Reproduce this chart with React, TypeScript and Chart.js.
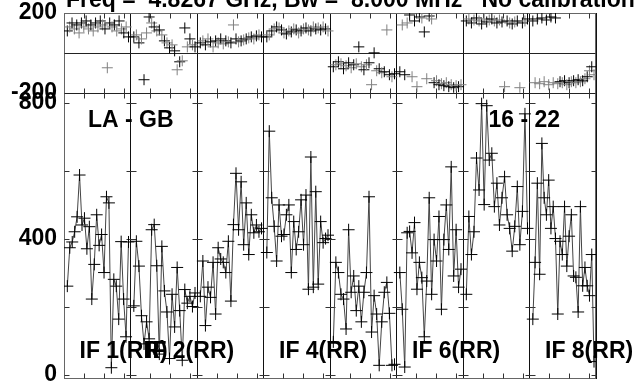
import React, { useEffect, useRef } from 'react';
import { Chart, registerables } from 'chart.js';

Chart.register(...registerables);

const TITLE = 'Freq =  4.8267 GHz, Bw =  8.000 MHz   No calibration applied';
const BASELINE_LABEL = 'LA - GB';
const SCAN_LABEL = '16 - 22';
const IF_LABELS = ['IF 1(RR)', 'IF 2(RR)', '', 'IF 4(RR)', '', 'IF 6(RR)', '', 'IF 8(RR)'];

const AMP_TICKS = [0, 200, 400, 600, 800];
const AMP_TICK_LABELS = ['0', '', '400', '', '800'];
const PHASE_TICKS = [-200, 0, 200];
const PHASE_TICK_LABELS = ['-200', '', '200'];

const AMP_IF1 = [260, 373, 390, 420, 464, 587, 440, 460, 370, 435, 222, 324, 470, 380, 412, 300, 523, 505, 20, 280, 260, 163, 391, 222, 111, 390];
const AMP_IF2 = [202, 392, 319, 173, 90, 155, 105, 426, 441, 320, 60, 377, 246, 184, 47, 236, 140, 315, 188, 42, 250, 210, 230, 200, 240];
const AMP_IF3 = [230, 334, 144, 257, 227, 330, 178, 373, 340, 330, 300, 392, 216, 441, 592, 426, 567, 382, 505, 353, 470, 417, 440, 420, 430];
const AMP_IF4 = [359, 716, 520, 436, 334, 499, 407, 412, 470, 499, 300, 450, 368, 420, 514, 382, 528, 251, 640, 257, 538, 266, 450, 388, 400, 410];
const AMP_IF5 = [96, 330, 300, 236, 222, 134, 426, 242, 290, 188, 260, 155, 242, 300, 523, 125, 232, 178, 27, 155, 242, 271, 180, 27, 30];
const AMP_IF6 = [300, 192, 22, 417, 421, 358, 447, 251, 330, 285, 111, 275, 520, 236, 397, 334, 465, 192, 397, 499, 368, 611, 290, 426, 257, 310];
const AMP_IF7 = [236, 465, 353, 420, 637, 543, 797, 500, 791, 631, 651, 494, 563, 440, 520, 582, 470, 430, 363, 436, 553, 382, 480, 767, 430];
const AMP_IF8 = [163, 330, 563, 295, 680, 520, 470, 572, 430, 494, 400, 178, 392, 353, 494, 319, 407, 470, 290, 286, 184, 494, 261, 315, 261, 232, 353, 38];

const PHASE_IF1 = [110, 130, 150, 120, 140, 100, 150, 130, 160, 120, 140, 110, 150, 130, 160, 140, 120, -75, 150, 130, 140, 110, 160, 120, 100, 130, 80];
const PHASE_IF2 = [80, 90, 50, 70, -135, 100, 180, 150, 130, 110, 115, 90, 60, 50, 25, 40, 10, -85, -45, -40, 125, 30, 70, 40, 30];
const PHASE_IF3 = [50, 60, 40, 70, 55, 30, 60, 50, 70, 45, 60, 55, 50, 140, 70, 55, 60, 65, 70, 75, 80, 70, 85, 90, 80];
const PHASE_IF4 = [80, 90, 110, 120, 130, 125, 115, 100, 95, 110, 105, 120, 115, 100, 110, 120, 125, 115, 110, 130, 120, 125, 115, 130, 120, 110];
const PHASE_IF5 = [-70, -60, -45, -55, -80, -65, -50, -75, -60, -55, 30, -70, -85, -60, -50, -160, 0, -90, -80, -100, -95, 115, -110, -120, -105];
const PHASE_IF6 = [-95, 140, -110, 150, 190, -120, 160, -170, 180, 175, 105, -130, 185, 170, -150, -140, -160, -155, -165, -150, -170, -160, -175, -165, -170, -160];
const PHASE_IF7 = [160, 170, 150, 165, 175, 160, 145, 170, 155, 165, 170, 160, 150, 165, 155, -170, 160, 150, 145, 155, 160, -175, 150, 160, 170];
const PHASE_IF8 = [160, -150, 170, -155, 175, -145, 165, -160, 180, -150, 175, -155, -145, -150, -140, -160, -150, -145, -140, -150, -135, -145, -140, -130, -120, -90, -70, -110];

const AMP = [AMP_IF1, AMP_IF2, AMP_IF3, AMP_IF4, AMP_IF5, AMP_IF6, AMP_IF7, AMP_IF8];
const PHASE = [PHASE_IF1, PHASE_IF2, PHASE_IF3, PHASE_IF4, PHASE_IF5, PHASE_IF6, PHASE_IF7, PHASE_IF8];

const FONT_FAMILY = '"Liberation Sans", Arial, Helvetica, sans-serif';

const xPos = (i: number, k: number, n: number) => i + 0.05 + 0.92 * (n > 1 ? k / (n - 1) : 0.5);

const fitY = (s: any) => {
  s.width = 64;
  s.paddingTop = 0;
  s.paddingBottom = 0;
};

const framePlugin = {
  id: 'vplotFrame',
  beforeDatasetsDraw(chart: any) {
    const { ctx, chartArea } = chart;
    const xs = chart.scales.x;
    const amp = chart.scales.amp;
    const ph = chart.scales.phase;
    const L = Math.round(chartArea.left) + 0.5;
    const R = Math.round(chartArea.right) - 0.5;
    const T = Math.round(chartArea.top) + 0.5;
    const B = Math.round(chartArea.bottom) - 0.5;
    ctx.save();
    ctx.lineWidth = 1;
    ctx.strokeStyle = '#666';
    ctx.strokeRect(L, T, R - L, B - T);
    const mid = Math.round(ph.bottom) + 0.5;
    const zero = Math.round(ph.getPixelForValue(0)) + 0.5;
    ctx.strokeStyle = '#222';
    ctx.beginPath();
    ctx.moveTo(L, mid); ctx.lineTo(R, mid);
    ctx.moveTo(L, zero); ctx.lineTo(R, zero);
    ctx.stroke();
    ctx.strokeStyle = '#333';
    ctx.beginPath();
    const tl = 5;
    for (let i = 0; i <= 8; i++) {
      const px = Math.round(xs.getPixelForValue(i)) + 0.5;
      for (const v of AMP_TICKS) {
        const py = Math.round(amp.getPixelForValue(v)) + 0.5;
        ctx.moveTo(i === 0 ? px : px - tl, py);
        ctx.lineTo(i === 8 ? px : px + tl, py);
      }
      if (i < 8) {
        for (const f of [0.3, 0.6, 0.9]) {
          const tx = Math.round(xs.getPixelForValue(i + f)) + 0.5;
          ctx.moveTo(tx, B); ctx.lineTo(tx, B - tl);
          ctx.moveTo(tx, mid); ctx.lineTo(tx, mid + tl);
          ctx.moveTo(tx, mid); ctx.lineTo(tx, mid - tl);
          ctx.moveTo(tx, T); ctx.lineTo(tx, T + tl);
        }
      }
    }
    ctx.stroke();
    ctx.restore();
  },
  afterDatasetsDraw(chart: any) {
    const { ctx, chartArea } = chart;
    const xs = chart.scales.x;
    ctx.save();
    ctx.fillStyle = '#000';
    ctx.textBaseline = 'alphabetic';
    ctx.textAlign = 'left';
    ctx.font = `bold 23px ${FONT_FAMILY}`;
    ctx.fillText(TITLE, 66, 7);
    ctx.fillText(BASELINE_LABEL, xs.getPixelForValue(0) + 24, chartArea.top + 113.5);
    ctx.fillText(SCAN_LABEL, xs.getPixelForValue(6) + 25.5, chartArea.top + 113.5);
    IF_LABELS.forEach((lab, i) => {
      if (!lab) return;
      ctx.fillText(lab, xs.getPixelForValue(i) + 15.5, chartArea.bottom - 21.5);
    });
    ctx.restore();
  },
};

export default function App() {
  const ref = useRef<HTMLCanvasElement | null>(null);
  useEffect(() => {
    document.body.style.margin = '0';
    const canvas = ref.current;
    if (!canvas) return;
    const datasets: any[] = [];
    AMP.forEach((arr, i) => {
      datasets.push({
        type: 'line',
        yAxisID: 'amp',
        xAxisID: 'x',
        data: arr.map((v, k) => ({ x: xPos(i, k, arr.length), y: v })),
        borderColor: '#444',
        borderWidth: 1,
        pointStyle: 'cross',
        pointRadius: 6,
        pointBorderColor: '#000',
        pointBorderWidth: 1,
        tension: 0,
        fill: false,
      });
    });
    PHASE.forEach((arr, i) => {
      datasets.push({
        type: 'line',
        showLine: false,
        yAxisID: 'phase',
        xAxisID: 'x',
        data: arr.map((v, k) => ({ x: xPos(i, k, arr.length), y: v })),
        pointStyle: 'cross',
        pointRadius: 5.5,
        pointBorderColor: (c: any) => (c.dataIndex % 2 ? '#808080' : '#000'),
        pointBorderWidth: 1,
      });
    });
    const tickFont = { family: FONT_FAMILY, size: 23, weight: 'bold' as const };
    const chart = new Chart(canvas, {
      type: 'line',
      data: { datasets },
      plugins: [framePlugin],
      options: {
        animation: false,
        responsive: false,
        events: [],
        layout: { padding: { top: 13, right: 41, bottom: 5, left: 0 } },
        plugins: { legend: { display: false }, tooltip: { enabled: false }, title: { display: false } },
        scales: {
          x: {
            type: 'linear',
            min: 0,
            max: 8,
            ticks: { display: false, stepSize: 1 },
            grid: { color: '#111', lineWidth: 1, drawTicks: false },
            border: { display: false },
            afterFit: (s: any) => { s.height = 0; s.paddingLeft = 0; s.paddingRight = 0; },
          },
          amp: {
            type: 'linear',
            position: 'left',
            stack: 'v',
            stackWeight: 287.5,
            min: -13.2,
            max: 829.3,
            afterBuildTicks: (s: any) => { s.ticks = AMP_TICKS.map((v) => ({ value: v })); },
            ticks: {
              font: tickFont,
              color: '#000',
              padding: 7,
              autoSkip: false,
              callback: (v: any) => AMP_TICK_LABELS[AMP_TICKS.indexOf(Number(v))] ?? '',
            },
            grid: { display: false, drawTicks: false },
            border: { display: false },
            afterFit: fitY,
          },
          phase: {
            type: 'linear',
            position: 'left',
            stack: 'v',
            stackWeight: 80,
            min: -200,
            max: 200,
            afterBuildTicks: (s: any) => { s.ticks = PHASE_TICKS.map((v) => ({ value: v })); },
            ticks: {
              font: tickFont,
              color: '#000',
              padding: 7,
              autoSkip: false,
              callback: (v: any) => PHASE_TICK_LABELS[PHASE_TICKS.indexOf(Number(v))] ?? '',
            },
            grid: { display: false, drawTicks: false },
            border: { display: false },
            afterFit: fitY,
          },
        },
      } as any,
    });
    return () => chart.destroy();
  }, []);
  return <canvas ref={ref} width={637} height={386} style={{ display: 'block' }} />;
}
